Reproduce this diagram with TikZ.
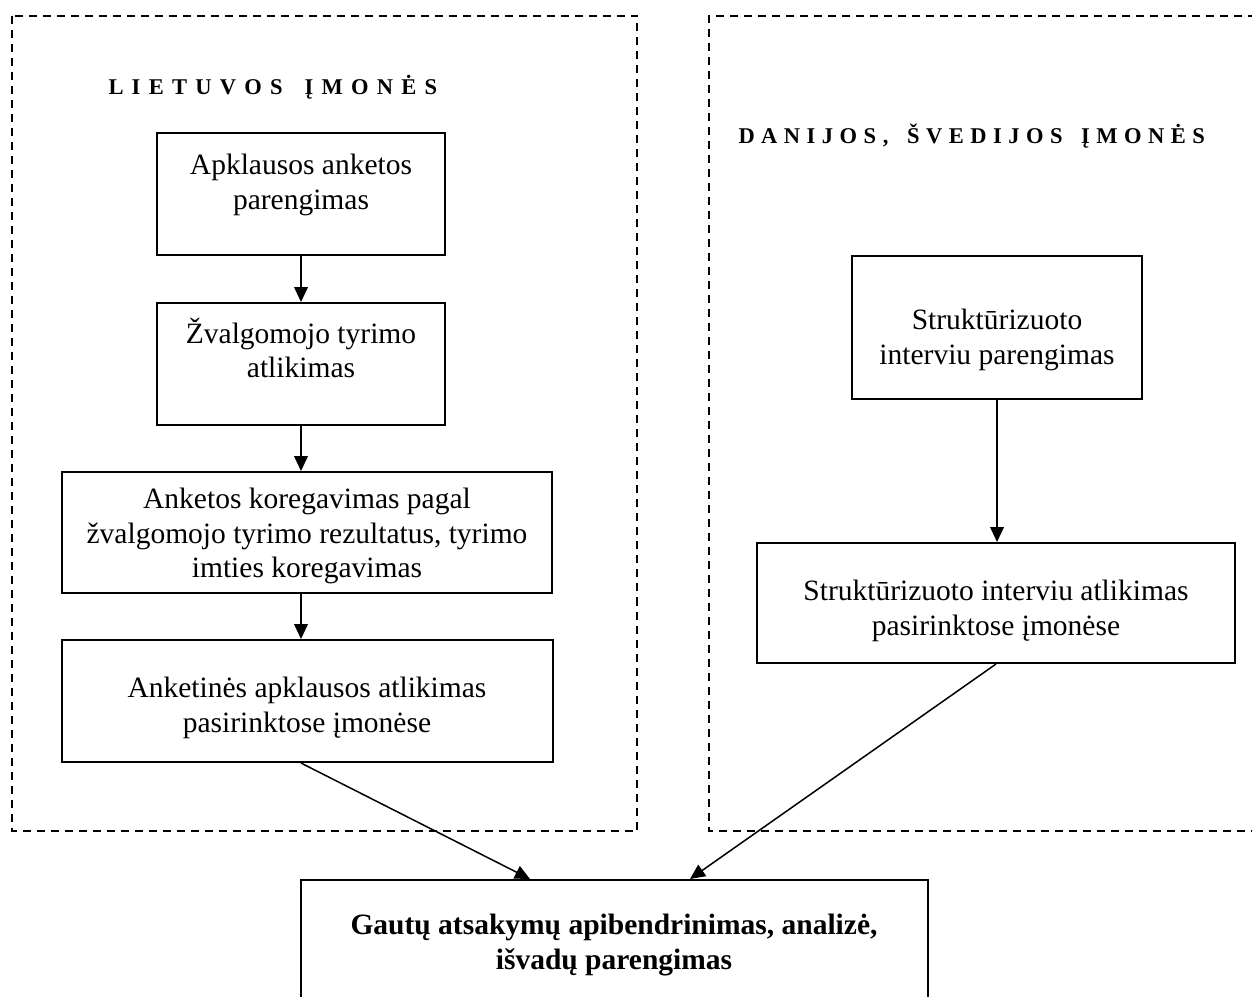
\documentclass[tikz,border=0pt]{standalone}
\usepackage{fontspec}
\setmainfont{Liberation Serif}
\usetikzlibrary{arrows.meta,calc}

% letter-spaced capitals for the group headings
\newlength\capgap
\newcommand\spreadcaps[2][2.6pt]{\setlength\capgap{#1}\spreadstep#2\relax}
\def\spreadstep#1{\ifx\relax#1\else#1\kern\capgap\expandafter\spreadstep\fi}

\begin{document}
\begin{tikzpicture}[x=0.4pt,y=-0.4pt,
  zone/.style={line width=0.8pt, dash pattern=on 3.2pt off 2.4pt},
  stepbox/.style 2 args={draw, line width=0.8pt, inner sep=0pt,
    minimum width=#1*0.4pt, minimum height=#2*0.4pt},
  txt/.style={align=center, inner sep=0pt, font=\fontsize{11.8}{13.8}\selectfont},
  heading/.style={anchor=base west, inner sep=0pt, font=\fontsize{9}{10.8}\selectfont\bfseries},
  link/.style={line width=0.6pt, -{Triangle[length=6pt,width=5.5pt]}}]

\useasboundingbox (0,0) rectangle (1252,996);
\clip (0,0) rectangle (1252,996);

% group frames
\draw[zone] (12,15.5) rectangle (637,831);
\draw[zone] (1270,15.5) -- (709,15.5) -- (709,831) -- (1270,831);

\node[heading] (hlt) at (108,94.5) {\spreadcaps[3.3pt]{LIETUVOS~ĮMONĖS}};
\node[heading] (hdk) at (738,143.5) {\spreadcaps{DANIJOS,~ŠVEDIJOS~ĮMONĖS}};

% left column
\node[stepbox={288}{122}] (b1) at (301,194) {};
\node[txt] (t1) at (301,185) {Apklausos anketos\\parengimas};
\node[stepbox={288}{122}] (b2) at (301,364) {};
\node[txt] (t2) at (301,348) {Žvalgomojo tyrimo\\atlikimas};
\node[stepbox={490}{121}] (b3) at (307,532.5) {};
\node[txt] (t3) at (307,536) {Anketos koregavimas pagal\\žvalgomojo tyrimo rezultatus, tyrimo\\imties koregavimas};
\node[stepbox={491}{122}] (b4) at (307.5,701) {};
\node[txt] (t4) at (307,708) {Anketinės apklausos atlikimas\\pasirinktose įmonėse};

% right column
\node[stepbox={290}{143}] (r1) at (997,327) {};
\node[txt] (s1) at (997,340) {Struktūrizuoto\\interviu parengimas};
\node[stepbox={478}{120}] (r2) at (996,603) {};
\node[txt] (s2) at (996,611) {Struktūrizuoto interviu atlikimas\\pasirinktose įmonėse};

% summary
\node[stepbox={627}{160}] (fin) at (614.5,960) {};
\node[txt, font=\fontsize{11.8}{13.8}\selectfont\bfseries] (tf) at (614,945) {Gautų atsakymų apibendrinimas, analizė,\\išvadų parengimas};

% connectors
\draw[link] (b1) -- (b2);
\draw[link] (b2.south) -- (b2.south |- b3.north);
\draw[link] (b2.south |- b3.south) -- (b2.south |- b4.north);
\draw[link] (b2.south |- b4.south) -- ($(fin.north west)+(230,0)$);
\draw[link] (r1.south) -- (r1.south |- r2.north);
\draw[link] (r2.south) -- ($(fin.north west)+(390,0)$);
\end{tikzpicture}
\end{document}
